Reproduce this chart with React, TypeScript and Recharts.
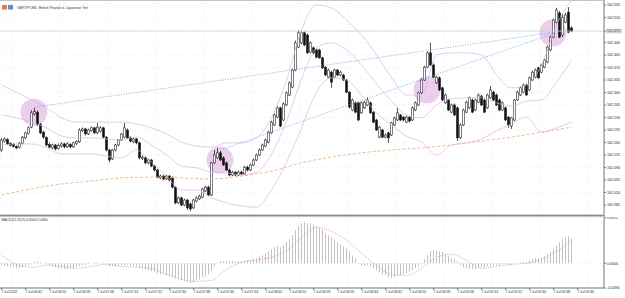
import React from 'react';
import { ComposedChart, Bar, Line, Scatter, XAxis, YAxis, CartesianGrid, ReferenceLine } from 'recharts';

// prices are stored in points (0.001) above BASE
const BASE = 161.9;
const PT = 0.001;

const opens = [
  239, 264, 268, 257, 255, 249, 246, 258, 273, 285,
  303, 340, 345, 311, 289, 274, 255, 245, 253, 243,
  250, 256, 248, 254, 248, 257, 262, 293, 298, 284,
  293, 301, 287, 292, 301, 275, 239, 214, 239, 253,
  267, 275, 295, 273, 262, 270, 259, 215, 217, 203,
  211, 194, 183, 161, 166, 158, 166, 161, 135, 91,
  105, 85, 99, 88, 77, 96, 102, 107, 124, 135,
  113, 203, 217, 231, 217, 203, 183, 169, 177, 169,
  177, 172, 191, 183, 197, 211, 225, 239, 250, 261,
  287, 309, 331, 357, 323, 365, 393, 415, 463, 527,
  539, 567, 561, 513, 525, 519, 519, 497, 471, 443,
  457, 443, 463, 449, 449, 435, 401, 351, 371, 371,
  343, 357, 365, 371, 345, 323, 275, 295, 275, 287,
  281, 309, 323, 337, 331, 317, 331, 323, 351, 365,
  399, 435, 471, 511, 477, 427, 441, 413, 371, 379,
  345, 365, 357, 273, 309, 345, 357, 379, 351, 373,
  390, 379, 357, 385, 401, 393, 379, 351, 357, 331,
  306, 323, 379, 393, 401, 421, 407, 435, 443, 469,
  457, 471, 485, 519, 555, 597, 623, 561, 597, 625, 581,
];
const highs = [
  272, 274, 272, 261, 258, 252, 261, 278, 290, 305,
  351, 357, 350, 315, 292, 277, 260, 256, 256, 257,
  260, 259, 261, 258, 262, 266, 300, 302, 301, 299,
  305, 304, 315, 306, 304, 278, 242, 242, 256, 270,
  287, 315, 299, 277, 274, 273, 262, 224, 221, 215,
  214, 197, 186, 170, 170, 170, 169, 165, 138, 109,
  108, 103, 102, 92, 102, 109, 114, 133, 139, 139,
  206, 239, 245, 236, 221, 207, 187, 181, 180, 182,
  181, 195, 195, 201, 215, 229, 243, 257, 271, 293,
  321, 341, 361, 360, 372, 403, 431, 467, 545, 575,
  572, 571, 565, 543, 529, 523, 522, 500, 474, 467,
  461, 467, 466, 461, 452, 438, 404, 383, 375, 374,
  375, 377, 387, 375, 348, 326, 306, 298, 285, 290,
  318, 332, 357, 340, 334, 335, 334, 361, 375, 403,
  441, 475, 515, 539, 481, 447, 445, 416, 397, 383,
  369, 369, 361, 313, 355, 377, 389, 383, 383, 397,
  394, 383, 397, 418, 405, 397, 383, 375, 361, 334,
  332, 382, 405, 417, 425, 425, 445, 461, 467, 472,
  481, 495, 531, 559, 607, 637, 628, 620, 623, 639, 585,
];
const lows = [
  233, 260, 253, 249, 246, 241, 243, 255, 270, 282,
  300, 335, 306, 283, 270, 249, 244, 241, 238, 240,
  246, 244, 245, 244, 245, 253, 259, 289, 280, 281,
  290, 284, 284, 288, 271, 235, 205, 211, 235, 250,
  264, 272, 270, 260, 258, 255, 213, 211, 199, 199,
  191, 179, 159, 157, 154, 155, 151, 131, 87, 88,
  82, 82, 71, 68, 74, 93, 99, 104, 121, 110,
  110, 200, 214, 208, 194, 180, 165, 166, 165, 166,
  168, 169, 179, 180, 194, 208, 222, 236, 247, 258,
  284, 306, 328, 303, 320, 362, 390, 412, 460, 524,
  535, 530, 508, 510, 507, 496, 494, 466, 446, 440,
  413, 440, 446, 446, 432, 398, 355, 348, 342, 320,
  340, 354, 362, 340, 314, 292, 272, 272, 272, 259,
  278, 306, 320, 320, 319, 314, 316, 320, 348, 362,
  396, 432, 468, 474, 440, 424, 404, 376, 368, 348,
  342, 334, 264, 270, 306, 342, 354, 342, 348, 370,
  362, 342, 354, 382, 376, 362, 348, 348, 320, 301,
  298, 320, 376, 390, 398, 390, 404, 432, 440, 438,
  454, 468, 482, 516, 552, 594, 552, 555, 594, 566, 569,
];
const closes = [
  267, 270, 256, 252, 249, 245, 258, 275, 287, 301,
  343, 347, 311, 287, 275, 253, 247, 253, 242, 252,
  256, 248, 256, 248, 259, 263, 295, 298, 284, 295,
  301, 287, 303, 301, 275, 239, 211, 239, 253, 267,
  284, 301, 273, 264, 270, 259, 217, 219, 203, 211,
  194, 183, 163, 166, 158, 166, 155, 135, 91, 105,
  85, 99, 77, 74, 99, 105, 110, 130, 135, 113,
  203, 225, 231, 211, 197, 183, 169, 177, 169, 177,
  172, 191, 183, 197, 211, 225, 239, 253, 267, 289,
  317, 337, 357, 306, 368, 399, 427, 463, 539, 567,
  569, 533, 511, 539, 511, 499, 497, 469, 449, 463,
  429, 463, 449, 457, 435, 401, 359, 379, 345, 323,
  371, 373, 379, 343, 317, 295, 303, 275, 281, 273,
  315, 329, 343, 323, 323, 331, 320, 357, 371, 399,
  435, 471, 511, 477, 443, 443, 407, 379, 393, 351,
  365, 337, 273, 309, 351, 373, 385, 345, 379, 393,
  365, 345, 393, 407, 379, 365, 351, 371, 323, 309,
  329, 379, 401, 413, 421, 393, 441, 457, 463, 441,
  477, 491, 527, 555, 603, 631, 555, 611, 617, 569, 572,
];

// bollinger bands, one value every 5 bars (points)
const bandStep = 5;
const upperBand = [421, 401, 379, 357, 329, 317, 317, 317, 317, 312, 301, 284, 261, 250, 247, 259, 259, 273, 329, 435,
  575, 645, 637, 603, 561, 505, 441, 393, 393, 505, 511, 511, 505, 449, 413, 421, 477, 589, 659];
const midBand = [337, 329, 317, 301, 278, 273, 273, 270, 267, 275, 253, 225, 194, 189, 177, 175, 169, 177, 228, 320,
  438, 525, 539, 519, 477, 424, 376, 337, 329, 365, 382, 385, 387, 371, 362, 376, 379, 429, 491];
const lowerBand = [253, 256, 256, 245, 228, 228, 228, 222, 217, 239, 205, 166, 127, 127, 105, 91, 82, 79, 127, 205,
  301, 401, 441, 435, 393, 343, 309, 278, 261, 225, 253, 259, 270, 292, 312, 331, 289, 301, 317];

// slow moving average, one value every 10 bars (points)
const maStep = 10;
const slowMa = [113, 130, 144, 152, 161, 163, 161, 158, 166, 180, 203, 219, 231, 239, 245, 253, 264, 275, 289, 303];

const macdHist = [
  -0.004, -0.006, -0.006, -0.008, -0.008, -0.010, -0.010, -0.008, -0.006, -0.004, -0.002,
  0.002, 0.004, 0.002, 0, -0.002, -0.004, -0.006, -0.008, -0.010, -0.010,
  -0.012, -0.012, -0.010, -0.010, -0.008, -0.006, -0.004, -0.004, -0.002, 0,
  0.002, 0.002, 0.001, -0.002, -0.004, -0.006, -0.006, -0.006, -0.006, -0.004,
  -0.004, -0.004, -0.006, -0.006, -0.006, -0.008, -0.010, -0.012, -0.014, -0.016,
  -0.018, -0.020, -0.022, -0.022, -0.024, -0.026, -0.028, -0.030, -0.032, -0.034,
  -0.036, -0.038, -0.040, -0.038, -0.034, -0.032, -0.028, -0.026, -0.022, -0.016,
  -0.006, 0.002, 0.004, 0.004, 0.005, 0.004, 0.004, 0.004, 0.004, 0.004,
  0.005, 0.006, 0.006, 0.008, 0.010, 0.014, 0.016, 0.020, 0.024, 0.028,
  0.032, 0.034, 0.032, 0.036, 0.042, 0.048, 0.056, 0.066, 0.074, 0.080,
  0.082, 0.080, 0.080, 0.078, 0.074, 0.072, 0.068, 0.060, 0.056, 0.052,
  0.048, 0.042, 0.038, 0.034, 0.030, 0.024, 0.016, 0.010, -0.002, -0.004,
  -0.004, -0.004, -0.006, -0.010, -0.014, -0.018, -0.022, -0.024, -0.028, -0.030,
  -0.028, -0.026, -0.024, -0.022, -0.020, -0.018, -0.014, -0.010, -0.006, -0.002,
  0.008, 0.016, 0.024, 0.026, 0.026, 0.024, 0.022, 0.018, 0.014, 0.010,
  0.008, 0.004, -0.004, -0.008, -0.010, -0.012, -0.012, -0.012, -0.010, -0.008,
  -0.008, -0.006, -0.006, -0.004, -0.004, -0.004, -0.002, -0.002, -0.004, -0.004,
  0, 0, 0.002, 0.002, 0.002, 0.006, 0.008, 0.010, 0.010, 0.012,
  0.014, 0.018, 0.022, 0.028, 0.036, 0.042, 0.048, 0.052, 0.054, 0.050,
];
// signal line, one value every 5 bars
const macdSignal = [0.016, -0.002, -0.008, -0.004, -0.006, -0.010, -0.006, -0.002, -0.006, -0.008, -0.010, -0.022, -0.032,
  -0.036, -0.034, -0.012, 0.002, 0.007, 0.012, 0.026, 0.052, 0.072, 0.064, 0.046, 0.020, -0.004, -0.022, -0.024, -0.010,
  0.012, 0.018, 0.006, -0.010, -0.006, -0.002, 0, 0.008, 0.024, 0.046];

const timeLabels = [
  '7 Jul 2022', '7 Jul 06:42', '7 Jul 06:50', '7 Jul 06:58', '7 Jul 07:06', '7 Jul 07:14', '7 Jul 07:22',
  '7 Jul 07:30', '7 Jul 07:38', '7 Jul 07:46', '7 Jul 07:54', '7 Jul 08:02', '7 Jul 08:10', '7 Jul 08:18',
  '7 Jul 08:26', '7 Jul 08:34', '7 Jul 08:42', '7 Jul 08:50', '7 Jul 08:58', '7 Jul 09:06', '7 Jul 09:14',
  '7 Jul 09:22', '7 Jul 09:30', '7 Jul 09:38', '7 Jul 09:46',
];
const labelStep = 8;
const labelTicks = timeLabels.map((_, k) => k * labelStep);
const gridTicks = timeLabels.map((_, k) => k * labelStep + 3.5);

const priceTicks = [161.985, 162.02, 162.055, 162.09, 162.125, 162.16, 162.195, 162.23, 162.265, 162.3,
  162.335, 162.37, 162.405, 162.44, 162.51, 162.545];
const lastPrice = 162.472;
const macdTicks = [0.0912, 0, -0.0494];

// drawn objects
const trendFrom = [[11, 162.259], [73, 162.139]];
const trendTo = [[184.5, 162.469], [184.5, 162.467]];
const zoneIdx = [10.8, 72.8, 141.8, 183.8];
const zonePrice = [162.245, 162.111, 162.307, 162.467];

const px = (v: number) => +(BASE + v * PT).toFixed(3);

const candleRows = closes.map((c, i) => ({
  i,
  o: px(opens[i]), h: px(highs[i]), l: px(lows[i]), c: px(c),
  range: [px(lows[i]), px(highs[i])],
}));
const bandRows = upperBand.map((u, k) => ({ i: k * bandStep, upper: px(u), mid: px(midBand[k]), lower: px(lowerBand[k]) }));
const maRows = slowMa.map((m, k) => ({ i: k * maStep, ma: px(m) }));
const macdRows = macdHist.map((m, i) => ({ i, macd: m }));
const signalRows = macdSignal.map((s, k) => ({ i: k * bandStep, signal: s }));
const zones = zoneIdx.map((i, k) => ({ i, p: zonePrice[k] }));

const W = 625;
const AXIS_W = 21;
const X_DOMAIN = [-0.5, 200.83];
const Y_DOMAIN = [161.9598, 162.559];
const FONT = 'Liberation Sans, Arial, sans-serif';
const BAND = '#ddb3e7';

const Candle = (props: any) => {
  const { x, y, width, height, payload } = props;
  if (x == null || y == null) return null;
  const top = Math.min(y, y + height);
  const hh = Math.abs(height);
  const { o, h, l, c } = payload;
  const cx = x + width / 2;
  const k = h - l > 0 ? hh / (h - l) : 0;
  const yO = top + (h - o) * k;
  const yC = top + (h - c) * k;
  const bTop = Math.min(yO, yC);
  const bH = Math.max(Math.abs(yO - yC), 0.7);
  const up = c >= o;
  return (
    <g>
      <line x1={cx} x2={cx} y1={top} y2={top + hh} stroke="#2a2a2a" strokeWidth={0.8} />
      <rect x={cx - 1.1} y={bTop} width={2.2} height={bH} fill={up ? '#ffffff' : '#111111'} stroke="#2a2a2a" strokeWidth={0.6} />
    </g>
  );
};

const Zone = (props: any) => {
  const { cx, cy } = props;
  if (cx == null || cy == null) return null;
  return <circle cx={cx} cy={cy} r={13.5} fill="#ebcdee" />;
};

const PriceTick = (props: any) => {
  const { x, y, payload } = props;
  const v = payload.value;
  const isLast = Math.abs(v - lastPrice) < 1e-6;
  return (
    <g>
      {isLast && <rect x={x - 1} y={y - 2.2} width={16} height={4.4} fill="#d2d2d2" />}
      <text x={x} y={y} dy="0.35em" fontSize={3.6} fill={isLast ? '#6a6a6a' : '#222'} fontFamily={FONT}>
        {v.toFixed(3)}
      </text>
    </g>
  );
};

const MacdTick = (props: any) => {
  const { x, y, payload } = props;
  return (
    <text x={x} y={y} dy="0.35em" fontSize={3.6} fill="#222" fontFamily={FONT}>
      {payload.value.toFixed(4)}
    </text>
  );
};

const TimeTick = (props: any) => {
  const { x, y, payload } = props;
  const label = timeLabels[Math.round(payload.value / labelStep)];
  return (
    <text x={x} y={y} dy="0.8em" fontSize={3.4} fill="#222" fontFamily={FONT}>
      {label}
    </text>
  );
};

const layer: React.CSSProperties = { position: 'absolute', left: 0, top: 0 };

export default function App() {
  return (
    <div style={{ position: 'absolute', left: 0, top: 0, width: W, height: 298, background: '#fff' }}>
      {/* highlight zones sit under the candles */}
      <div style={layer}>
        <ComposedChart width={W} height={214} data={candleRows} margin={{ top: 0, right: AXIS_W, bottom: 0, left: 0 }}>
          <XAxis type="number" dataKey="i" domain={X_DOMAIN} allowDataOverflow hide />
          <YAxis type="number" domain={Y_DOMAIN} allowDataOverflow hide />
          <Scatter data={zones} dataKey="p" shape={<Zone />} isAnimationActive={false} />
        </ComposedChart>
      </div>

      <div style={layer}>
        <ComposedChart width={W} height={214} data={candleRows} margin={{ top: 0, right: 0, bottom: 0, left: 0 }}>
          <CartesianGrid stroke="#e4e4e4" strokeDasharray="1 2" strokeWidth={0.6} />
          <XAxis type="number" dataKey="i" domain={X_DOMAIN} ticks={gridTicks} allowDataOverflow hide />
          <YAxis
            orientation="right"
            type="number"
            domain={Y_DOMAIN}
            allowDataOverflow
            ticks={[...priceTicks, lastPrice]}
            interval={0}
            width={AXIS_W}
            tick={<PriceTick />}
            tickSize={2}
            tickMargin={1}
            tickLine={{ stroke: '#777' }}
            axisLine={{ stroke: '#777' }}
          />
          <ReferenceLine y={lastPrice} stroke="#cfcfcf" strokeWidth={0.8} />
          <Line data={bandRows} dataKey="upper" type="monotone" stroke={BAND} strokeWidth={0.7} dot={false} activeDot={false} isAnimationActive={false} />
          <Line data={bandRows} dataKey="mid" type="monotone" stroke={BAND} strokeWidth={0.7} dot={false} activeDot={false} isAnimationActive={false} />
          <Line data={bandRows} dataKey="lower" type="monotone" stroke={BAND} strokeWidth={0.7} dot={false} activeDot={false} isAnimationActive={false} />
          <Line data={maRows} dataKey="ma" type="monotone" stroke="#f0b37c" strokeWidth={0.9} strokeDasharray="3 2" dot={false} activeDot={false} isAnimationActive={false} />
          {trendFrom.map((f, k) => (
            <ReferenceLine
              key={k}
              segment={[{ x: f[0], y: f[1] }, { x: trendTo[k][0], y: trendTo[k][1] }]}
              stroke="#5f9ddd"
              strokeWidth={0.8}
              strokeDasharray="1 1.5"
              ifOverflow="visible"
            />
          ))}
          <Bar dataKey="range" barSize={3} shape={<Candle />} isAnimationActive={false} />
        </ComposedChart>
      </div>

      <div style={{ position: 'absolute', left: 0, top: 217 }}>
        <ComposedChart width={W} height={81} data={macdRows} margin={{ top: 0.7, right: 0, bottom: 0, left: 0 }}>
          <CartesianGrid stroke="#e4e4e4" strokeDasharray="1 2" strokeWidth={0.6} xAxisId="grid" />
          <XAxis xAxisId="grid" type="number" dataKey="i" domain={X_DOMAIN} ticks={gridTicks} allowDataOverflow hide />
          <XAxis
            type="number"
            dataKey="i"
            domain={X_DOMAIN}
            allowDataOverflow
            ticks={labelTicks}
            interval={0}
            height={10}
            tick={<TimeTick />}
            tickSize={2}
            tickMargin={0.5}
            tickLine={{ stroke: '#777' }}
            axisLine={{ stroke: '#777' }}
          />
          <YAxis
            orientation="right"
            type="number"
            domain={[-0.0494, 0.0912]}
            allowDataOverflow
            ticks={macdTicks}
            interval={0}
            width={AXIS_W}
            tick={<MacdTick />}
            tickSize={2}
            tickMargin={1}
            tickLine={{ stroke: '#777' }}
            axisLine={{ stroke: '#777' }}
          />
          <Bar dataKey="macd" barSize={1} fill="#c2c2c2" isAnimationActive={false} />
          <Line data={signalRows} dataKey="signal" type="monotone" stroke="#f4a27e" strokeWidth={0.9} strokeDasharray="1 1" dot={false} activeDot={false} isAnimationActive={false} />
        </ComposedChart>
      </div>

      <svg width={W} height={298} style={{ position: 'absolute', left: 0, top: 0, pointerEvents: 'none' }}>
        <line x1={0} x2={604} y1={0.5} y2={0.5} stroke="#c4c4c4" strokeWidth={1} />
        <rect x={2} y={5} width={5} height={4.5} fill="#e07b4e" />
        <rect x={8} y={5} width={5} height={4.5} fill="#5d8fd6" />
        <text x={17} y={7.3} dy="0.35em" fontSize={3.6} fill="#333" fontFamily={FONT}>
          GBPJPY,M1:  British Pound vs Japanese Yen
        </text>
        <rect x={0} y={214.6} width={605} height={1.9} fill="#8c8c8c" />
        <text x={1.5} y={219.6} dy="0.35em" fontSize={3.4} fill="#333" fontFamily={FONT}>
          MACD(12,26,9) 0.0500 0.0460
        </text>
      </svg>
    </div>
  );
}
